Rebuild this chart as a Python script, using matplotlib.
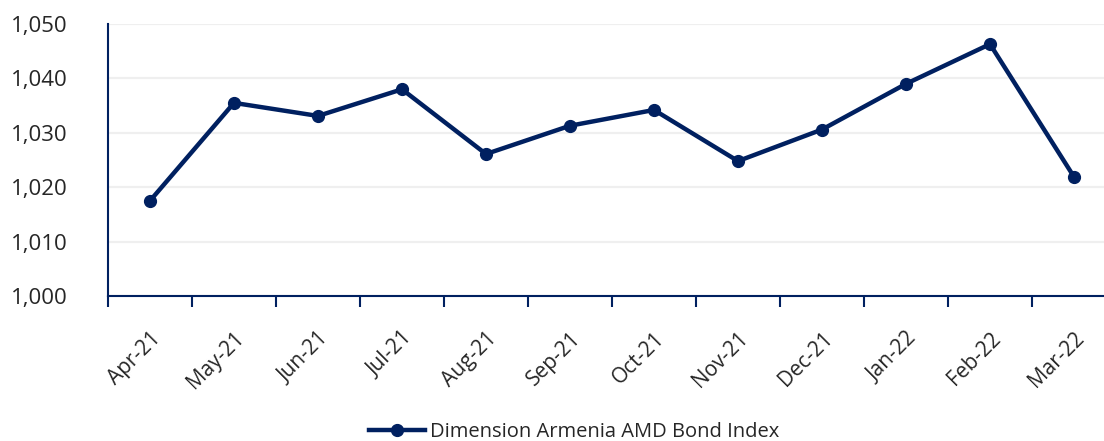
import matplotlib
matplotlib.use("Agg")
import matplotlib.pyplot as plt
from matplotlib.ticker import FuncFormatter, FixedLocator

categories = ["Apr-21", "May-21", "Jun-21", "Jul-21", "Aug-21", "Sep-21",
              "Oct-21", "Nov-21", "Dec-21", "Jan-22", "Feb-22", "Mar-22"]
values = [1017.5, 1035.5, 1033.1, 1038.0, 1026.1, 1031.3,
          1034.2, 1024.8, 1030.6, 1039.0, 1046.3, 1021.9]
series_name = "Dimension Armenia AMD Bond Index"
y_ticks = [1000, 1010, 1020, 1030, 1040, 1050]

plt.rcParams['font.family'] = ['Open Sans', 'DejaVu Sans']
navy = "#002060"

fig = plt.figure(figsize=(11.04, 4.41), dpi=100)
ax = fig.add_axes([108/1104, 1-296/441, (1116-108)/1104, (296-24)/441])

x = list(range(len(categories)))
ax.plot(x, values, color=navy, lw=3.2, marker='o', markersize=8.5,
        label=series_name, zorder=3, solid_joinstyle='round')

ax.set_ylim(1000, 1050)
ax.set_xlim(-0.5, len(categories) - 0.5)
ax.set_yticks(y_ticks)
ax.yaxis.set_major_formatter(FuncFormatter(lambda v, p: f"{int(v):,}"))
ax.tick_params(axis='y', length=0, labelsize=16, labelcolor='#262626', pad=70)
for lab in ax.get_yticklabels():
    lab.set_horizontalalignment('left')
ax.grid(axis='y', color='#EFEFEF', lw=1.6, zorder=0)
ax.set_axisbelow(True)

ax.set_xticks(x)
ax.set_xticklabels(categories, rotation=45, ha='right', rotation_mode='anchor')
ax.tick_params(axis='x', which='major', length=0, labelsize=15,
               labelcolor='#262626', pad=23)
ax.xaxis.set_minor_locator(FixedLocator([i - 0.5 for i in range(len(categories) + 1)]))
ax.tick_params(axis='x', which='minor', length=8, width=1.5, color=navy, direction='out')

for s in ['top', 'right']:
    ax.spines[s].set_visible(False)
for s in ['left', 'bottom']:
    ax.spines[s].set_color(navy)
    ax.spines[s].set_linewidth(1.5)

fig.legend(loc='center', bbox_to_anchor=(574/1104, 1-432/441), frameon=False,
           fontsize=14.5, handlelength=2.75, handletextpad=0.25,
           labelcolor='#262626')

fig.savefig("out.png", dpi=100)
